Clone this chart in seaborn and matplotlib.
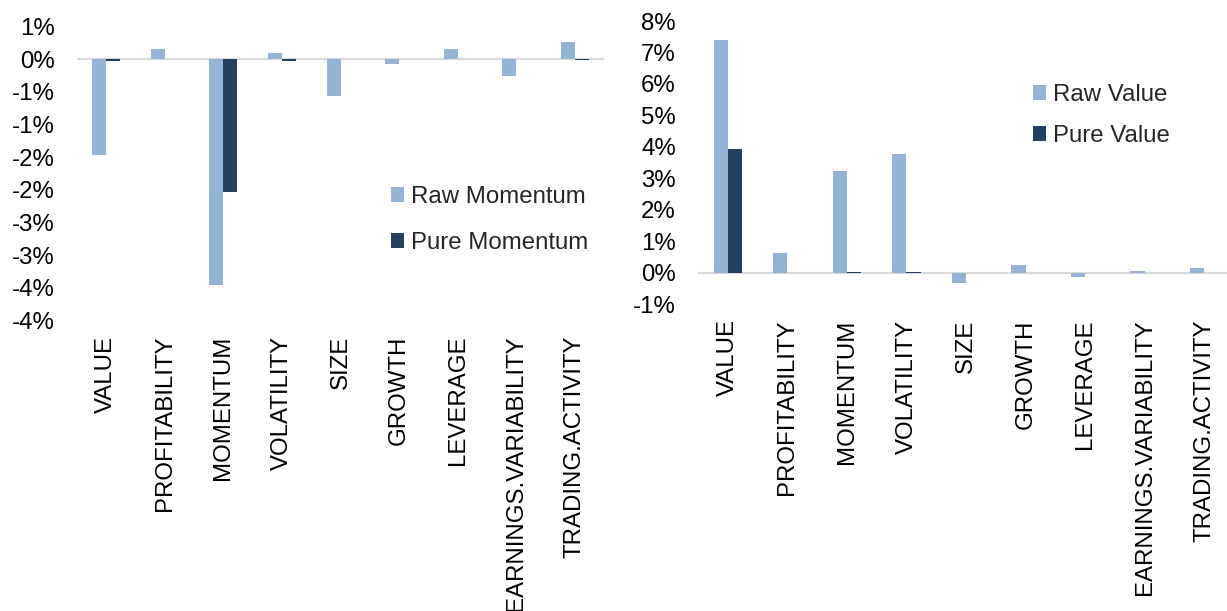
import matplotlib.pyplot as plt
import pandas as pd
import seaborn as sns

# % Data
factors = [
    "VALUE",
    "PROFITABILITY",
    "MOMENTUM",
    "VOLATILITY",
    "SIZE",
    "GROWTH",
    "LEVERAGE",
    "EARNINGS.VARIABILITY",
    "TRADING.ACTIVITY",
]

# values in percent
raw_momentum = [-1.46, 0.16, -3.45, 0.09, -0.57, -0.08, 0.15, -0.26, 0.26]
pure_momentum = [-0.03, 0.0, -2.04, -0.03, 0.0, 0.01, 0.0, 0.0, -0.01]

raw_value = [7.41, 0.63, 3.22, 3.77, -0.32, 0.24, -0.13, 0.05, 0.16]
pure_value = [3.93, 0.0, 0.02, 0.02, 0.0, 0.0, 0.0, 0.0, 0.0]

mom_ticks = [0.5, 0.0, -0.5, -1.0, -1.5, -2.0, -2.5, -3.0, -3.5, -4.0]
mom_ticklabels = ["1%", "0%", "-1%", "-1%", "-2%", "-2%", "-3%", "-3%", "-4%", "-4%"]

val_ticks = [8, 7, 6, 5, 4, 3, 2, 1, 0, -1]
val_ticklabels = ["8%", "7%", "6%", "5%", "4%", "3%", "2%", "1%", "0%", "-1%"]

light = "#95B3D7"
dark = "#254061"

# % Style
sns.set_style("white")
plt.rcParams["font.family"] = ["Liberation Sans", "DejaVu Sans"]
fs = 17.3


def panel(ax, raw, pure, names, ticks, ticklabels, legend_xy, spacing):
    df = pd.DataFrame(
        {
            "factor": factors * 2,
            "value": raw + pure,
            "series": [names[0]] * len(factors) + [names[1]] * len(factors),
        }
    )
    sns.barplot(
        data=df,
        x="factor",
        y="value",
        hue="series",
        palette=[light, dark],
        width=0.48,
        ax=ax,
        saturation=1,
        edgecolor="none",
    )
    ax.axhline(0, color="#D9D9D9", lw=1.6, zorder=0.5)
    ax.set_ylim(ticks[-1], ticks[0])
    ax.set_xlim(-0.5, len(factors) - 0.5)
    ax.set_yticks(ticks)
    ax.set_yticklabels(ticklabels, fontsize=fs)
    ax.set_xticks(range(len(factors)))
    ax.set_xticklabels(factors, rotation=90, fontsize=fs)
    ax.tick_params(axis="both", length=0, colors="black")
    ax.tick_params(axis="y", pad=16)
    ax.tick_params(axis="x", pad=11)
    ax.set(xlabel="", ylabel="")
    sns.despine(ax=ax, left=True, bottom=True)
    handles, labels = ax.get_legend_handles_labels()
    ax.legend(
        handles,
        labels,
        loc="upper left",
        bbox_to_anchor=legend_xy,
        bbox_transform=ax.figure.transFigure,
        frameon=False,
        fontsize=fs,
        handlelength=0.55,
        handleheight=0.55,
        handletextpad=0.3,
        labelspacing=spacing,
        borderpad=0,
        borderaxespad=0,
    )


fig = plt.figure(figsize=(12.27, 6.11), dpi=100)
ax1 = fig.add_axes([0.0628, 0.4754, 0.4295, 0.4812])
ax2 = fig.add_axes([0.5689, 0.5021, 0.4368, 0.4635])

panel(
    ax1,
    raw_momentum,
    pure_momentum,
    ["Raw Momentum", "Pure Momentum"],
    mom_ticks,
    mom_ticklabels,
    (391 / 1227, 1 - 186 / 611),
    1.0,
)
panel(
    ax2,
    raw_value,
    pure_value,
    ["Raw Value", "Pure Value"],
    val_ticks,
    val_ticklabels,
    (1033 / 1227, 1 - 84 / 611),
    0.8,
)

plt.savefig("out.png", dpi=100)
